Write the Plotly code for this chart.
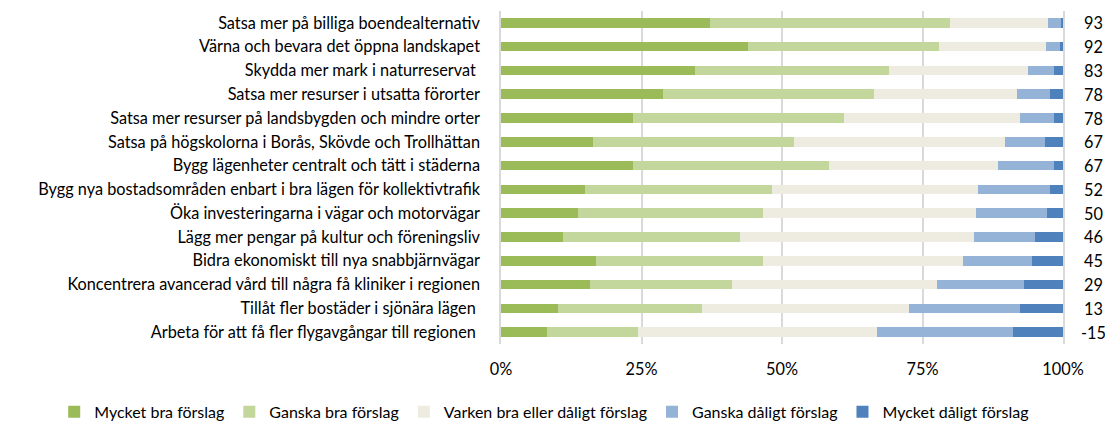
import plotly.graph_objects as go

categories = [
    "Satsa mer på billiga boendealternativ",
    "Värna och bevara det öppna landskapet",
    "Skydda mer mark i naturreservat\u00a0",
    "Satsa mer resurser i utsatta förorter",
    "Satsa mer resurser på landsbygden och mindre orter",
    "Satsa på högskolorna i Borås, Skövde och Trollhättan",
    "Bygg lägenheter centralt och tätt i städerna",
    "Bygg nya bostadsområden enbart i bra lägen för kollektivtrafik",
    "Öka investeringarna i vägar och motorvägar",
    "Lägg mer pengar på kultur och föreningsliv",
    "Bidra ekonomiskt till nya snabbjärnvägar",
    "Koncentrera avancerad vård till några få kliniker i regionen",
    "Tillåt fler bostäder i sjönära lägen\u00a0",
    "Arbeta för att få fler flygavgångar till regionen\u00a0",
]

mycket_bra = [37.2, 44.0, 34.6, 28.8, 23.5, 16.4, 23.5, 15.0, 13.7, 11.0, 16.9, 15.8, 10.2, 8.2]
ganska_bra = [42.7, 34.0, 34.4, 37.6, 37.5, 35.7, 34.9, 33.2, 33.0, 31.5, 29.7, 25.3, 25.6, 16.1]
varken = [17.4, 18.9, 24.7, 25.4, 31.4, 37.6, 30.1, 36.6, 37.8, 41.7, 35.6, 36.4, 36.8, 42.6]
ganska_daligt = [2.3, 2.6, 4.7, 5.8, 6.0, 7.1, 9.9, 12.9, 12.6, 10.9, 12.3, 15.6, 19.7, 24.2]
mycket_daligt = [0.4, 0.5, 1.6, 2.4, 1.6, 3.2, 1.6, 2.3, 2.9, 4.9, 5.5, 6.9, 7.7, 8.9]

net_values = ["93", "92", "83", "78", "78", "67", "67", "52", "50", "46", "45", "29", "13", "-15"]

series = [
    ("Mycket bra förslag", mycket_bra, "#9BBB59"),
    ("Ganska bra förslag", ganska_bra, "#C3D69B"),
    ("Varken bra eller dåligt förslag", varken, "#EEECE1"),
    ("Ganska dåligt förslag", ganska_daligt, "#95B3D7"),
    ("Mycket dåligt förslag", mycket_daligt, "#4F81BD"),
]

tick_vals = [0, 25, 50, 75, 100]
tick_text = ["0%", "25%", "50%", "75%", "100%"]

FONT = "Lato"
FS = 16.3

fig = go.Figure()
for name, vals, color in series:
    fig.add_trace(go.Bar(
        y=categories, x=vals, name=name, orientation="h",
        marker=dict(color=color, line=dict(width=0)),
        width=0.40,
    ))

for cat, val in zip(categories, net_values):
    fig.add_annotation(
        x=1, xref="paper", y=cat, yref="y", text=val, showarrow=False,
        xshift=30, xanchor="center", font=dict(family=FONT, size=FS, color="#000000"),
    )

fig.update_layout(
    barmode="stack",
    width=1105, height=425,
    margin=dict(l=501, r=42, t=11, b=81, autoexpand=False),
    plot_bgcolor="white", paper_bgcolor="white",
    font=dict(family=FONT, size=FS, color="#000000"),
    legend=dict(
        orientation="h", x=-0.795, xanchor="left",
        y=-0.204, yanchor="middle", xref="paper", yref="paper",
        font=dict(family=FONT, size=16, color="#000000"),
        traceorder="normal", itemwidth=30,
    ),
    xaxis=dict(
        range=[0, 100], tickvals=tick_vals, ticktext=tick_text,
        showgrid=True, gridcolor="#D9D9D9", gridwidth=1.5,
        zeroline=False, showline=False, ticks="", ticklabelstandoff=14,
        tickfont=dict(family=FONT, size=FS), automargin=False,
    ),
    yaxis=dict(
        categoryorder="array", categoryarray=categories[::-1],
        showgrid=False, zeroline=False, showline=True, mirror=True,
        linecolor="#D9D9D9", linewidth=1.5, ticks="",
        ticklabelstandoff=16, tickfont=dict(family=FONT, size=FS),
        automargin=False,
    ),
)

fig.write_html("out.html", config={"displayModeBar": False},
               post_script="document.body.style.margin='0';")
